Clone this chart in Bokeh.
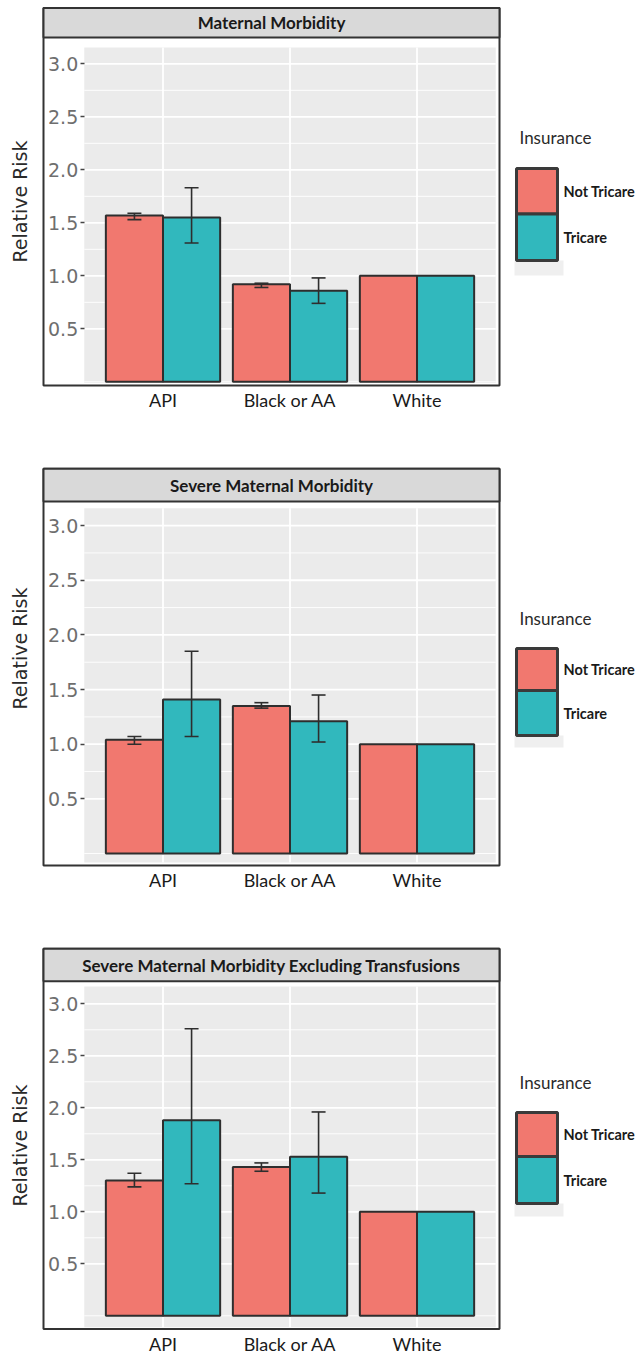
import numpy as np
from bokeh.plotting import figure
from bokeh.layouts import column
from bokeh.models import Range1d, LinearAxis, FixedTicker, ColumnDataSource, NumeralTickFormatter
from bokeh.transform import dodge
from bokeh.core.properties import value
from bokeh.embed import file_html
from bokeh.resources import INLINE

# ---------------- data ----------------
categories = ["API", "Black or AA", "White"]
insurance = ["Not Tricare", "Tricare"]
panel_titles = ["Maternal Morbidity", "Severe Maternal Morbidity",
                "Severe Maternal Morbidity Excluding Transfusions"]
y_ticks = [0.5, 1.0, 1.5, 2.0, 2.5, 3.0]
y_label = "Relative Risk"
legend_title = "Insurance"

mm_not_rr = [1.57, 0.92, 1.00]
mm_not_lo = [1.53, 0.89, np.nan]
mm_not_hi = [1.59, 0.93, np.nan]
mm_tri_rr = [1.55, 0.86, 1.00]
mm_tri_lo = [1.31, 0.74, np.nan]
mm_tri_hi = [1.83, 0.98, np.nan]

smm_not_rr = [1.04, 1.35, 1.00]
smm_not_lo = [1.00, 1.33, np.nan]
smm_not_hi = [1.07, 1.38, np.nan]
smm_tri_rr = [1.41, 1.21, 1.00]
smm_tri_lo = [1.07, 1.02, np.nan]
smm_tri_hi = [1.85, 1.45, np.nan]

smmx_not_rr = [1.30, 1.43, 1.00]
smmx_not_lo = [1.24, 1.39, np.nan]
smmx_not_hi = [1.37, 1.47, np.nan]
smmx_tri_rr = [1.88, 1.53, 1.00]
smmx_tri_lo = [1.27, 1.18, np.nan]
smmx_tri_hi = [2.76, 1.96, np.nan]

# ---------------- styles / layout ----------------
fill_colors = ["#F1786F", "#31B8BD"]
dark = "#2e2e2e"
panel_gray = "#EBEBEB"
strip_gray = "#D9D9D9"
CAT_FONT_NAME = "Lato"
TICK_FONT_NAME = "DejaVu Sans"
CAT_FONT = value(CAT_FONT_NAME)
TICK_FONT = value(TICK_FONT_NAME)

W = 638
X0 = 162.5      # page x of first category
PPC = 127.0     # pixels per category
BAR_W = 0.45
CAP = 0.055
PANEL_L, PANEL_R = -0.62, 2.62

layouts = [
    dict(top=0, bottom=440, zero=381.3, ppu=106.0, frame_top=7.5, strip_bottom=37,
         frame_bottom=385, panel_top=47, panel_bottom=382.5, xgap=3,
         leg_title=137, key_top=168, key_mid=213.5, key_bottom=260, glow=275, ylab=201),
    dict(top=440, bottom=900, zero=853.0, ppu=109.3, frame_top=468.3, strip_bottom=501,
         frame_bottom=865, panel_top=507.7, panel_bottom=862, xgap=3,
         leg_title=618, key_top=648, key_mid=690, key_bottom=735, glow=747, ylab=648),
    dict(top=900, bottom=1356, zero=1315.3, ppu=104.0, frame_top=948.3, strip_bottom=980.7,
         frame_bottom=1328.5, panel_top=986, panel_bottom=1326.7, xgap=4,
         leg_title=1082, key_top=1112, key_mid=1156, key_bottom=1203, glow=1216, ylab=1145),
]


def build_panel(i, title, not_rr, not_lo, not_hi, tri_rr, tri_lo, tri_hi):
    L = layouts[i]
    z, k = L["zero"], L["ppu"]
    h = L["bottom"] - L["top"]
    p = figure(width=W, height=h, output_backend="svg", toolbar_location=None,
               x_range=Range1d(-X0 / PPC, (W - X0) / PPC),
               y_range=Range1d((z - L["bottom"]) / k, (z - L["top"]) / k),
               x_axis_location=None, y_axis_location=None, min_border=0, tools="")
    p.extra_x_ranges = {"px": Range1d(0, W)}
    p.extra_y_ranges = {"px": Range1d(L["bottom"], L["top"])}
    p.outline_line_color = None
    p.background_fill_color = "white"
    p.border_fill_color = "white"
    p.xgrid.grid_line_color = None
    p.ygrid.grid_line_color = None

    px = dict(x_range_name="px", y_range_name="px")

    # plot panel background
    ytop = (z - L["panel_top"]) / k
    ybot = (z - L["panel_bottom"]) / k
    p.quad(left=[PANEL_L], right=[PANEL_R], bottom=[ybot], top=[ytop],
           fill_color=panel_gray, line_color=None)
    # grid lines
    step = y_ticks[1] - y_ticks[0]
    minor = [y_ticks[0] - step] + [t + step / 2 for t in y_ticks]
    minor = [m for m in minor if ybot <= m <= ytop]
    p.segment(x0=PANEL_L, x1=PANEL_R, y0=minor, y1=minor, line_color="white", line_width=0.9)
    p.segment(x0=PANEL_L, x1=PANEL_R, y0=y_ticks, y1=y_ticks, line_color="white", line_width=1.8)
    idx = list(range(len(categories)))
    p.segment(x0=idx, x1=idx, y0=ybot, y1=ytop, line_color="white", line_width=1.8)

    src = ColumnDataSource(dict(idx=idx, cat=categories,
                                not_rr=not_rr, not_lo=not_lo, not_hi=not_hi,
                                tri_rr=tri_rr, tri_lo=tri_lo, tri_hi=tri_hi))
    for j, (key, off) in enumerate([("not", -BAR_W / 2), ("tri", BAR_W / 2)]):
        p.vbar(x=dodge("idx", off), top=f"{key}_rr", bottom=0, width=BAR_W, source=src,
               fill_color=fill_colors[j], line_color=dark, line_width=2)
    for key, off in [("not", -BAR_W / 2), ("tri", BAR_W / 2)]:
        p.segment(x0=dodge("idx", off), x1=dodge("idx", off), y0=f"{key}_lo", y1=f"{key}_hi",
                  source=src, line_color=dark, line_width=1.6)
        for end in ("lo", "hi"):
            p.segment(x0=dodge("idx", off - CAP), x1=dodge("idx", off + CAP),
                      y0=f"{key}_{end}", y1=f"{key}_{end}", source=src,
                      line_color=dark, line_width=1.6)

    # frame and strip
    p.quad(left=[43], right=[499], top=[L["frame_top"]], bottom=[L["frame_bottom"]],
           fill_color=None, line_color="#333333", line_width=2, **px)
    p.quad(left=[43], right=[499], top=[L["frame_top"]], bottom=[L["strip_bottom"]],
           fill_color=strip_gray, line_color="#333333", line_width=2, **px)
    p.text(x=[271], y=[(L["frame_top"] + L["strip_bottom"]) / 2], text=[title],
           text_font=CAT_FONT, text_font_style="bold", text_font_size="17px",
           text_align="center", text_baseline="middle", text_color="#1a1a1a", **px)

    # y axis (inside frame)
    yax = LinearAxis(fixed_location=PANEL_L, ticker=FixedTicker(ticks=y_ticks),
                     formatter=NumeralTickFormatter(format="0.0"))
    yax.axis_line_color = None
    yax.major_tick_in = 0
    yax.major_tick_out = 4
    yax.major_tick_line_color = "#444444"
    yax.major_tick_line_width = 1.5
    yax.minor_tick_line_color = None
    yax.major_label_standoff = 2
    yax.major_label_text_font = TICK_FONT_NAME
    yax.major_label_text_font_size = "19px"
    yax.major_label_text_color = "#6e6e6e"
    p.add_layout(yax, "left")

    # x axis (category labels under frame)
    xax = LinearAxis(fixed_location=(z - L["frame_bottom"]) / k, ticker=FixedTicker(ticks=idx),
                     major_label_overrides={i_: c for i_, c in zip(idx, categories)})
    xax.axis_line_color = None
    xax.major_tick_in = 0
    xax.major_tick_out = 0
    xax.major_tick_line_color = None
    xax.minor_tick_line_color = None
    xax.major_label_standoff = L["xgap"]
    xax.major_label_text_font = CAT_FONT_NAME
    xax.major_label_text_font_size = "18px"
    xax.major_label_text_color = "#1a1a1a"
    p.add_layout(xax, "below")

    # y label
    p.text(x=[19.5], y=[L["ylab"]], text=[y_label], angle=np.pi / 2,
           text_font=TICK_FONT, text_font_size="19px", text_align="center",
           text_baseline="middle", text_color="#2a2a2a", **px)

    # legend
    p.text(x=[519], y=[L["leg_title"]], text=[legend_title], text_font=CAT_FONT,
           text_font_size="17px", text_align="left", text_baseline="middle",
           text_color="#2a2a2a", **px)
    p.quad(left=[514], right=[563], top=[L["key_bottom"]], bottom=[L["glow"]],
           fill_color="#EFEFEF", line_color=None, **px)
    tops = [L["key_top"], L["key_mid"]]
    bots = [L["key_mid"], L["key_bottom"]]
    p.quad(left=[516, 516], right=[557, 557], top=tops, bottom=bots,
           fill_color=fill_colors, line_color="#3a3a3a", line_width=3, **px)
    p.text(x=[563, 563], y=[(t + b) / 2 for t, b in zip(tops, bots)], text=insurance,
           text_font=CAT_FONT, text_font_style="bold", text_font_size="14.5px",
           text_align="left", text_baseline="middle", text_color="#1a1a1a", **px)
    return p


p1 = build_panel(0, panel_titles[0], mm_not_rr, mm_not_lo, mm_not_hi, mm_tri_rr, mm_tri_lo, mm_tri_hi)
p2 = build_panel(1, panel_titles[1], smm_not_rr, smm_not_lo, smm_not_hi, smm_tri_rr, smm_tri_lo, smm_tri_hi)
p3 = build_panel(2, panel_titles[2], smmx_not_rr, smmx_not_lo, smmx_not_hi, smmx_tri_rr, smmx_tri_lo, smmx_tri_hi)

layout = column(p1, p2, p3, spacing=0)
open("out.html", "w").write(file_html(layout, INLINE))
